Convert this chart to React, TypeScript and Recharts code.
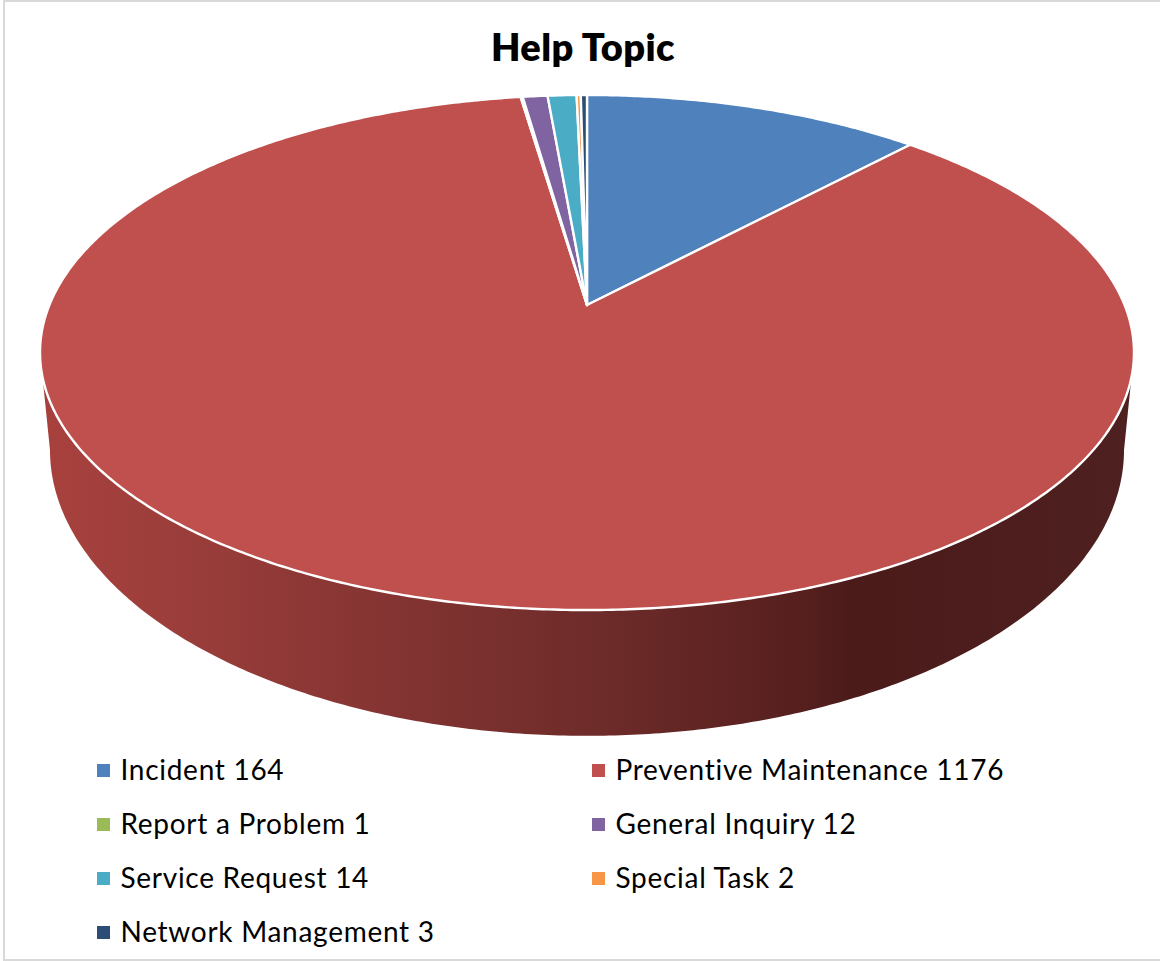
import React from "react";
import { PieChart, Pie, Cell, Legend } from "recharts";

// Help desk tickets per topic
const topics = [
  "Incident",
  "Preventive Maintenance",
  "Report a Problem",
  "General Inquiry",
  "Service Request",
  "Special Task",
  "Network Management",
];
const ticketCounts = [164, 1176, 1, 12, 14, 2, 3];
const topicColors = ["#4f81bd", "#c0504d", "#9bbb59", "#8064a2", "#4bacc6", "#f79646", "#2c4d75"];

const rows = topics.map((topic, i) => ({
  label: `${topic} ${ticketCounts[i]}`,
  tickets: ticketCounts[i],
}));

const FONT = "Lato, 'Open Sans', sans-serif";

// Perspective projection of the pie disc, tilted away from the viewer.
// `near` is how far a point sits toward the viewer, from -1 (back) to 1 (front).
const TILT = -0.18447;
const CENTER_X = 587;

function rimPoint(angleDeg: number, rx: number, rise: number, base: number) {
  const rad = (angleDeg * Math.PI) / 180;
  const near = -Math.sin(rad);
  const w = 1 + TILT * near;
  return [CENTER_X + (rx * Math.cos(rad)) / w, (rise * near + base) / w];
}
const topRim = (a: number) => rimPoint(a, 537.6, 192.5, 305);
const lowRim = (a: number) => rimPoint(a, 527.8, 202.9, 397.2);

function sweep(from: number, to: number, at: (a: number) => number[]) {
  const steps = Math.max(1, Math.ceil(Math.abs(to - from) / 0.5));
  const pts: number[][] = [];
  for (let i = 0; i <= steps; i++) pts.push(at(from + ((to - from) * i) / steps));
  return pts;
}
const toPath = (pts: number[][]) =>
  pts.map((p, i) => `${i ? "L" : "M"}${p[0].toFixed(2)} ${p[1].toFixed(2)}`).join(" ");

// Angles at which the outer wall of the disc starts and stops being visible.
const WALL_TOP_RIGHT = -Math.asin(0.275) * (180 / Math.PI);
const WALL_LOW_RIGHT = -Math.asin(0.1845) * (180 / Math.PI);

function PerspectiveSlice(props: any) {
  const { cx, cy, startAngle, endAngle, fill, index } = props;
  const hi = Math.max(startAngle, endAngle);
  const lo = Math.min(startAngle, endAngle);
  // Wall spans clockwise from the right silhouette to the left one, wrapped into this slice's range.
  const wallStart = Math.min(hi, WALL_TOP_RIGHT);
  const wallEnd = Math.max(lo, -180 - WALL_TOP_RIGHT);
  const hasWall = wallStart > wallEnd;
  return (
    <g>
      {hasWall && (
        <>
          <defs>
            <linearGradient id={`wall-${index}`} gradientUnits="userSpaceOnUse" x1="40" y1="0" x2="1134" y2="0">
              <stop offset="0" stopColor="#a8413e" />
              <stop offset="0.12" stopColor="#9c3e3b" />
              <stop offset="0.3" stopColor="#863533" />
              <stop offset="0.5" stopColor="#6f2c2a" />
              <stop offset="0.7" stopColor="#551f1e" />
              <stop offset="0.74" stopColor="#4b1b1a" />
              <stop offset="1" stopColor="#4e201f" />
            </linearGradient>
          </defs>
          <path
            d={`${toPath(sweep(wallStart, wallEnd, topRim))} ${toPath(
              sweep(-180 - WALL_LOW_RIGHT, WALL_LOW_RIGHT, lowRim),
            ).replace("M", "L")} Z`}
            fill={`url(#wall-${index})`}
          />
        </>
      )}
      <path
        d={`M${cx} ${cy} ${toPath(sweep(startAngle, endAngle, topRim)).replace("M", "L")} Z`}
        fill={fill}
        stroke="#ffffff"
        strokeWidth={2.4}
        strokeLinejoin="round"
      />
    </g>
  );
}

function TopicLegend({ payload }: any) {
  return (
    <div style={{ position: "relative", width: 1160, height: 961, fontFamily: FONT, color: "#000" }}>
      {(payload || []).map((entry: any, i: number) => {
        const left = i % 2 === 0 ? 97 : 592;
        const top = 770 + Math.floor(i / 2) * 54;
        return (
          <div key={entry.value} style={{ position: "absolute", left, top: top - 20, height: 40 }}>
            <span
              style={{
                position: "absolute",
                left: 0,
                top: 14,
                width: 13,
                height: 13,
                background: entry.color,
              }}
            />
            <span
              style={{
                position: "absolute",
                left: 23.5,
                top: -1,
                lineHeight: "40px",
                fontSize: 28,
                letterSpacing: 0.72,
                whiteSpace: "nowrap",
              }}
            >
              {entry.value}
            </span>
          </div>
        );
      })}
    </div>
  );
}

export default function App() {
  return (
    <div style={{ position: "absolute", left: 0, top: 0, width: 1160, height: 961, background: "#fff", overflow: "hidden" }}>
      <div style={{ position: "absolute", left: 3, top: 0, width: 1157, height: 2, background: "#d9d9d9" }} />
      <div style={{ position: "absolute", left: 3, top: 0, width: 2, height: 961, background: "#d9d9d9" }} />
      <div style={{ position: "absolute", left: 3, top: 959, width: 1157, height: 2, background: "#d9d9d9" }} />
      <div style={{ position: "absolute", left: 0, top: 0 }}>
        <PieChart width={1160} height={961} margin={{ top: 0, right: 0, bottom: 0, left: 0 }}>
          <text
            x={583}
            y={61}
            textAnchor="middle"
            fontFamily={FONT}
            fontWeight={800}
            fontSize={38}
            letterSpacing={0.4}
            fill="#000"
          >
            Help Topic
          </text>
          <Pie
            data={rows}
            dataKey="tickets"
            nameKey="label"
            cx={587}
            cy={305}
            outerRadius={500}
            startAngle={90}
            endAngle={-270}
            paddingAngle={0}
            stroke="#ffffff"
            label={false}
            labelLine={false}
            isAnimationActive={false}
            shape={PerspectiveSlice}
          >
            {rows.map((row, i) => (
              <Cell key={row.label} fill={topicColors[i]} />
            ))}
          </Pie>
          <Legend
            content={<TopicLegend />}
            itemSorter={null}
            wrapperStyle={{ position: "absolute", left: 0, top: 0, width: 1160, height: 961, pointerEvents: "none" }}
          />
        </PieChart>
      </div>
    </div>
  );
}
